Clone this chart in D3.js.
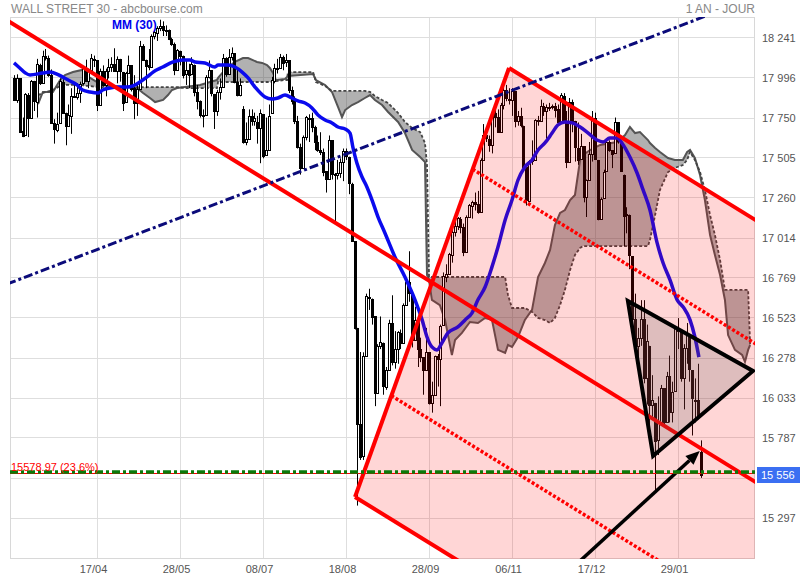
<!DOCTYPE html>
<html><head><meta charset="utf-8">
<script src="https://cdn.jsdelivr.net/npm/d3@7"></script>
<style>body{margin:0;background:#fff;} svg{display:block;font-family:Arial,"Liberation Sans",sans-serif;}</style>
</head><body><svg id="c" width="800" height="580"></svg>
<script>
// ---------- DATA ----------
const xLabels = ["17/04","28/05","08/07","18/08","28/09","06/11","17/12","29/01"];
const xLabelIdx = [29,58,87,116,145,174,203,232];
const yTicks = [15297,15542.3,15787.7,16033,16278.3,16523.7,16769,17014.3,17259.7,17505,17750.3,17995.7,18241];
const yTickLabels = ["15 297","15 542","15 787","16 033","16 278","16 523","16 769","17 014","17 260","17 505","17 750","17 996","18 241"];
const lastPrice = 15556, lastPriceLabel = "15 556";

const open = [
17990,17856,17990,17665,17640,17890,17750,17975,17845,18075,
17960,18130,18115,18010,17715,17675,17715,17970,17775,17700,
17760,17880,17875,17900,17960,18055,17975,18040,18110,18100,
17830,18035,17950,18035,18060,18080,18035,18110,18030,17845,
18025,18070,17930,17840,17925,18190,18105,18070,18060,18250,
18270,18300,18310,18285,18285,18232,18200,18040,18160,18125,
18015,18040,18015,18075,17905,17850,17765,17765,18000,18040,
17895,17790,17905,17935,18115,18020,18120,18145,17965,17890,
17800,17600,17620,17760,17730,17720,17685,17770,17520,17550,
17780,17975,18055,18055,18120,18090,18100,17920,17850,17730,
17570,17440,17630,17750,17745,17690,17600,17550,17540,17420,
17375,17610,17400,17400,17410,17480,17545,17510,17345,16990,
16460,15872,15676,16290,16650,16640,16530,16060,16350,16370,
16100,16200,16490,16250,16330,16430,16370,16600,16740,16670,
16385,16510,16330,16280,16200,16310,16000,16050,16285,16270,
16475,16775,16790,16910,17050,17085,17130,17080,16925,17140,
17210,17230,17220,17170,17490,17645,17620,17580,17780,17755,
17660,17830,17920,17865,17860,17910,17730,17760,17700,17445,
17240,17485,17490,17735,17730,17820,17790,17810,17813,17820,
17800,17720,17885,17730,17480,17845,17730,17565,17495,17575,
17265,17370,17525,17750,17490,17130,17255,17420,17600,17550,
17530,17720,17600,17400,17150,17155,16900,16515,16350,16400,
16515,16150,16350,15990,16000,15770,15880,16090,15885,16165,
15945,16070,16450,16440,16150,16335,16415,16200,16020,16015,
15700];
const high = [
18010,18015,17990,17750,17900,17900,17980,17975,18110,18080,
18160,18170,18130,18045,17740,17780,17990,17985,17780,17830,
17930,17960,17960,17970,18060,18105,18050,18140,18130,18100,
18050,18070,18050,18110,18120,18175,18125,18110,18030,18030,
18130,18070,18010,17960,18220,18200,18105,18170,18260,18280,
18310,18350,18340,18315,18290,18240,18210,18170,18160,18130,
18100,18080,18120,18075,17950,17855,17800,18010,18100,18040,
17895,17920,17990,18140,18120,18170,18180,18145,18050,17990,
17820,17720,17800,17800,17780,17760,17800,17770,17750,17830,
18000,18080,18110,18140,18130,18140,18100,17940,17880,17760,
17590,17640,17760,17770,17780,17700,17640,17660,17560,17420,
17640,17610,17410,17490,17500,17560,17560,17510,17350,16990,
16460,16312,16310,16670,16700,16640,16530,16360,16530,16370,
16220,16510,16660,16440,16440,16450,16610,16750,16930,16670,
16590,16510,16400,16280,16460,16310,16130,16290,16300,16480,
16800,16850,16920,17060,17110,17140,17140,17100,17150,17220,
17240,17290,17300,17500,17710,17680,17640,17780,17800,17800,
17840,17980,17950,17930,17930,17910,17790,17810,17700,17450,
17490,17610,17740,17760,17860,17840,17830,17840,17830,17840,
17830,17900,17900,17790,17870,17860,17730,17720,17650,17575,
17370,17600,17790,17780,17490,17260,17430,17610,17610,17550,
17750,17720,17600,17400,17200,17155,16900,16670,16460,16630,
16630,16480,16350,16170,16000,16040,16110,16090,16190,16290,
16130,16470,16520,16440,16360,16490,16420,16200,16150,16240,
15770];
const low = [
17853,17840,17660,17630,17640,17630,17750,17790,17750,17950,
17960,18100,18000,17715,17590,17660,17715,17775,17580,17700,
17650,17870,17860,17840,17950,17975,17930,18035,18060,17790,
17830,17940,17880,17990,18030,18030,17960,17970,17790,17845,
18025,17910,17740,17760,17925,18100,17930,18040,18060,18230,
18220,18280,18250,18250,18225,18190,18010,18040,18070,17990,
17950,17930,18010,17880,17800,17750,17690,17765,17990,17880,
17680,17760,17860,17935,18000,18020,18100,17960,17880,17880,
17590,17580,17620,17700,17700,17590,17470,17500,17520,17550,
17780,17960,18020,18055,18040,18060,17900,17830,17710,17560,
17400,17440,17610,17600,17660,17550,17540,17520,17390,17290,
17375,17370,17100,17370,17380,17360,17490,17280,16990,16450,
15370,15650,15650,16290,16570,16480,15980,16060,16330,16050,
16080,16200,16230,16210,16240,16330,16370,16600,16620,16340,
16380,16220,16250,16050,16200,15990,15940,16050,16100,15980,
16475,16740,16790,16860,17020,17060,17040,16900,16925,17140,
17130,17180,17160,17170,17490,17600,17540,17530,17690,17660,
17660,17800,17850,17830,17760,17690,17700,17690,17440,17210,
17240,17460,17490,17700,17730,17760,17620,17790,17800,17750,
17710,17720,17720,17440,17480,17660,17480,17460,17490,17230,
17140,17370,17480,17490,17120,17130,17255,17420,17540,17440,
17530,17590,17420,16960,17040,16820,16460,16320,16280,16350,
16120,15990,15840,15900,15450,15680,15880,15870,15885,15880,
15880,16070,16330,16130,15960,16240,16130,15800,15880,15900,
15540];
const close = [
17856,17995,17662,17635,17895,17749,17977,17849,18076,17959,
18127,18116,18011,17718,17678,17712,17976,17776,17698,17763,
17880,17875,17902,17958,18057,17977,18036,18113,18106,17826,
18034,17950,18038,18058,18080,18038,18110,18035,17841,18024,
18070,17928,17841,17924,18191,18105,18068,18060,18252,18272,
18299,18312,18285,18285,18232,18200,18042,18163,18126,18011,
18040,18011,18076,17906,17849,17766,17764,18000,18039,17899,
17791,17905,17935,18116,18016,18120,18144,17967,17891,17947,
17597,17620,17758,17731,17750,17684,17777,17516,17549,17761,
17978,18054,18051,18121,18086,18101,17920,17852,17731,17569,
17441,17631,17751,17746,17690,17599,17550,17541,17419,17373,
17615,17403,17402,17409,17477,17546,17512,17349,16990,16460,
15871,15666,16285,16655,16643,16528,16058,16351,16374,16102,
16200,16492,16253,16330,16433,16370,16599,16739,16674,16384,
16510,16330,16279,16201,16314,16001,16049,16285,16272,16472,
16776,16790,16912,17050,17084,17131,17081,16924,17141,17215,
17230,17217,17168,17489,17646,17623,17581,17779,17755,17663,
17828,17918,17867,17863,17910,17730,17758,17702,17448,17245,
17484,17489,17737,17732,17823,17792,17812,17813,17820,17798,
17720,17888,17730,17478,17848,17730,17568,17492,17575,17265,
17368,17524,17749,17495,17128,17252,17418,17603,17552,17528,
17721,17604,17425,17149,17158,16907,16514,16347,16399,16516,
16151,16379,15988,16016,15766,15882,16094,15885,16167,15944,
16069,16466,16449,16153,16337,16417,16205,16027,16014,15914,
15556];

// MM(30): [bar index, value]
const ma30 = [[0,18085],[2,18054],[4,18023],[5.6,18011],[10,18023],[12.6,18029],[15,18017],[17,17999],[19.6,17974],[22,17950],[24,17919],[26.6,17907],[29.4,17901],[31,17919],[33.5,17931],[36,17937],[39.5,17937],[41.6,17944],[44,17968],[46.5,17999],[48.6,18029],[52,18060],[55.6,18091],[59,18103],[61.5,18103],[63.2,18091],[66.7,18085],[70.2,18060],[71.3,18072],[74.8,18072],[77.2,18060],[79.7,18029],[81.8,17993],[84.2,17937],[87.7,17876],[90.1,17864],[92.2,17870],[94.7,17888],[97.1,17870],[99.2,17852],[101.7,17839],[104.1,17809],[106.2,17766],[108.7,17735],[111.1,17717],[113.2,17692],[115.7,17680],[117.4,17655],[118.4,17569],[119.8,17471],[121.6,17385],[123,17336],[125.1,17244],[127.2,17140],[129.6,17042],[133.1,16895],[136.6,16772],[140.1,16632],[142.6,16509],[144.3,16404],[146,16343],[147.8,16325],[149.5,16367],[151.6,16429],[155.1,16466],[157.6,16509],[160,16551],[162.1,16632],[164.6,16711],[167,16834],[169.1,16956],[171.6,17122],[174,17244],[176.1,17367],[178.5,17447],[181,17490],[183.1,17551],[185.5,17594],[188,17655],[190,17704],[192.5,17723],[195,17717],[197.8,17692],[200.2,17661],[203.7,17612],[205.8,17600],[208.2,17625],[210.7,17625],[212.4,17594],[215.2,17508],[217.7,17410],[219.8,17306],[222.2,17183],[224.7,16981],[226.8,16858],[229.2,16754],[231.7,16632],[233.8,16588],[236.2,16509],[237.9,16404],[239.3,16281]];

// Ichimoku cloud: bar index, span A (solid), span B (dashed)
const cloudIdx = [8.4,10.1,13.6,16.1,17.8,20.6,23.8,24.8,26.6,29,31.1,33.5,38.8,43,45.1,47.5,49.3,52.1,53.8,55.2,57,59.7,65,68.5,70.9,71.3,73.7,77.2,80,81.8,84.9,86.7,88.4,89.4,90.5,91.5,94.7,95.4,95.7,104.5,105.5,108.7,111.1,113.2,114.6,115.7,118.1,120.2,122.6,124.4,126.1,128.6,130.7,134.2,136.6,139.1,141.9,143.6,144.3,145,146,148.8,150.6,153,154.1,156.5,159.3,162.1,164.6,167,169.1,171.6,172.6,174,176.1,178.5,181,183.1,185.5,187.3,189,190.8,192.5,194.3,196,197.8,198.8,201.3,204.8,210.7,213.5,215.2,217,218.7,221.5,222.2,224,225.7,228.5,230.9,233.7,235.2,236.2,237.9,239.7,241.4,243.2,244.9,246.7,248.4,249.5,251.9,254.4,255.4,256.5,257.2];
const spanA = [17833,17907,17907,17980,18011,18029,18042,18023,17993,17968,17956,17944,17937,17931,17901,17870,17845,17858,17888,17919,17931,17937,17950,17968,17980,17993,18042,18091,18115,18115,18091,18085,18072,18054,18023,17980,17987,17999,18005,18017,17980,17950,17907,17815,17753,17796,17827,17845,17870,17888,17858,17827,17784,17723,17655,17551,17508,17477,16784,16754,16632,16600,16509,16294,16386,16429,16496,16490,16521,16509,16325,16306,16355,16343,16404,16509,16570,16772,16858,16938,17091,17165,17183,17244,17275,17490,17520,17551,17582,17600,17643,17692,17655,17661,17612,17594,17563,17539,17502,17490,17490,17539,17551,17502,17398,17244,17030,16907,16784,16631,16416,16325,16294,16251,16325,16355];
const spanB = [17888,17901,17919,17944,17950,17950,17950,17944,17944,17937,17937,17937,17937,17937,17937,17937,17937,17937,17937,17937,17937,17931,17931,17931,17931,17968,17968,17968,17968,17968,17968,17968,17968,17968,17968,17974,17980,17980,18029,18029,17968,17944,17913,17913,17913,17913,17913,17913,17913,17907,17882,17858,17839,17778,17723,17686,17661,17594,17459,16772,16772,16772,16772,16772,16772,16772,16772,16772,16772,16772,16772,16772,16662,16582,16582,16582,16558,16521,16508,16490,16521,16600,16693,16815,16907,16950,16962,16962,16962,16962,16962,16962,16962,16962,16962,16999,17152,17306,17416,17441,17459,17490,17539,17490,17416,17306,17152,17030,16876,16693,16693,16693,16693,16693,16693,16355];

// Fibonacci channel (bar index, price) and its levels
const fibP0 = [119.15, 15423], fibP1 = [172.96, 18054];
const fibSlope = -10.83;               // price change per bar
const fibEdges = [0, 1], fibDotted = [0.236, 0.764], fibMid = 0.5;
const fibRetrace = 15578.97, fibRetraceLabel = "15578.97 (23.6%)";

// Trend line (dash-dot navy) anchors
const trendLine = [[0,16745],[200,18092]];
// Triangle and arrow (bar index, price)
const triangle = [[214.5,16625],[258.2,16196],[223.3,15674]];
const arrow = [[196.5,15010],[239.6,15705]];

// ---------- DRAW ----------
const W=800,H=580,L=10,R=755,T=17,B=559;
const x = d3.scaleLinear().domain([0,240]).range([14,700.9]);
const y = d3.scaleLinear().domain([15042.5,18366.7]).range([B,T]);
const svg = d3.select('#c');
svg.append('defs').append('clipPath').attr('id','plot').append('rect')
  .attr('x',L).attr('y',T).attr('width',R-L).attr('height',B-T);

const grid = svg.append('g');
yTicks.forEach(v=>{const yy=Math.round(y(v))+0.5;
  grid.append('line').attr('x1',L).attr('x2',R).attr('y1',yy).attr('y2',yy).attr('stroke','#dedede');});
xLabelIdx.forEach(i=>{const xx=Math.round(x(i))+0.5;
  grid.append('line').attr('x1',xx).attr('x2',xx).attr('y1',T).attr('y2',B).attr('stroke','#dedede');});
grid.append('rect').attr('x',L+0.5).attr('y',T+0.5).attr('width',R-L-1).attr('height',B-T-1)
  .attr('fill','none').attr('stroke','#d8d8d8');

const g = svg.append('g').attr('clip-path','url(#plot)');

// cloud
const cloud = cloudIdx.map((d,i)=>({i:d,a:spanA[i],b:spanB[i]}));
g.append('path').datum(cloud).attr('d',d3.area().x(d=>x(d.i)).y0(d=>y(d.a)).y1(d=>y(d.b)))
  .attr('fill','rgba(60,60,60,0.4)');
g.append('path').datum(cloud).attr('d',d3.line().x(d=>x(d.i)).y(d=>y(d.a)))
  .attr('fill','none').attr('stroke','#555').attr('stroke-width',2);
g.append('path').datum(cloud).attr('d',d3.line().x(d=>x(d.i)).y(d=>y(d.b)))
  .attr('fill','none').attr('stroke','#444').attr('stroke-width',1.8).attr('stroke-dasharray','3,2');

// candles
const cg = g.append('g');
close.forEach((c,i)=>{
  const cx = Math.round(x(i));
  cg.append('line').attr('x1',cx+0.5).attr('x2',cx+0.5).attr('y1',y(high[i])).attr('y2',y(low[i]))
    .attr('stroke','#000').attr('stroke-width',1);
  const y1 = Math.round(y(Math.max(open[i],c))), y2 = Math.round(y(Math.min(open[i],c)));
  const up = c >= open[i];
  cg.append('rect').attr('x',cx-0.5).attr('y',y1+0.5).attr('width',2).attr('height',Math.max(1,y2-y1))
    .attr('fill',up?'#fff':'#000').attr('stroke','#000').attr('stroke-width',1);
});

// MA 30
g.append('path').datum(ma30).attr('d',d3.line().x(d=>x(d[0])).y(d=>y(d[1])).curve(d3.curveMonotoneX))
  .attr('fill','none').attr('stroke','#0a0aee').attr('stroke-width',3.5).attr('stroke-linejoin','round');

// Fibonacci channel
const lvl = f => [fibP0[0]+f*(fibP1[0]-fibP0[0]), fibP0[1]+f*(fibP1[1]-fibP0[1])];
const at = (f,idx) => { const s=lvl(f); return [idx, s[1]+fibSlope*(idx-s[0])]; };
const far = 320;
g.append('path').attr('d', d3.line().x(d=>x(d[0])).y(d=>y(d[1]))([lvl(0),lvl(1),at(1,far),at(0,far)])+'Z')
  .attr('fill','rgba(255,0,0,0.16)');
const ln = d3.line().x(d=>x(d[0])).y(d=>y(d[1]));
fibDotted.forEach(f=>g.append('path').attr('d',ln([lvl(f),at(f,far)])).attr('fill','none')
  .attr('stroke','#f00').attr('stroke-width',3.5).attr('stroke-dasharray','3,2'));
fibEdges.forEach(f=>g.append('path').attr('d',ln([lvl(f),at(f,far)])).attr('fill','none')
  .attr('stroke','#f00').attr('stroke-width',4));
g.append('path').attr('d',ln([lvl(0),lvl(1)])).attr('fill','none').attr('stroke','#f00').attr('stroke-width',4).attr('stroke-linejoin','miter');
g.append('path').attr('d',ln([at(fibMid,-20),at(fibMid,far)])).attr('fill','none').attr('stroke','#f00').attr('stroke-width',4);

// Trend line navy dash-dot
const ts = (trendLine[1][1]-trendLine[0][1])/(trendLine[1][0]-trendLine[0][0]);
g.append('path').attr('d',ln([[-20,trendLine[0][1]-20*ts],[300,trendLine[0][1]+300*ts]]))
  .attr('fill','none').attr('stroke','#0b0b7a').attr('stroke-width',3).attr('stroke-dasharray','9,3,3,3');

// triangle
g.append('path').attr('d',ln(triangle)+'Z').attr('fill','rgba(90,90,90,0.2)')
  .attr('stroke','#000').attr('stroke-width',4).attr('stroke-linejoin','miter');

// arrow
const a0=[x(arrow[0][0]),y(arrow[0][1])], a1=[x(arrow[1][0]),y(arrow[1][1])];
const ang=Math.atan2(a1[1]-a0[1],a1[0]-a0[0]);
const hl=14, hw=6;
const bx=a1[0]-hl*Math.cos(ang), by=a1[1]-hl*Math.sin(ang);
g.append('line').attr('x1',a0[0]).attr('y1',a0[1]).attr('x2',bx).attr('y2',by).attr('stroke','#000').attr('stroke-width',3.5);
g.append('path').attr('d',`M${a1[0]},${a1[1]}L${bx-hw*Math.sin(ang)},${by+hw*Math.cos(ang)}L${bx+hw*Math.sin(ang)},${by-hw*Math.cos(ang)}Z`).attr('fill','#000');

// Fibonacci retracement level
const fy = Math.round(y(fibRetrace));
g.append('line').attr('x1',L).attr('x2',R).attr('y1',fy+1.5).attr('y2',fy+1.5).attr('stroke','#f00').attr('stroke-width',1);
g.append('line').attr('x1',L).attr('x2',R).attr('y1',fy).attr('y2',fy).attr('stroke','#0a7a0a').attr('stroke-width',3.5).attr('stroke-dasharray','8,3,3,3');
svg.append('text').attr('x',11).attr('y',fy-1).attr('fill','#f00').attr('font-size','11px').text(fibRetraceLabel);

// axes (the tick hidden by the last-price tag gets no label, as in the reference)
const ly = y(lastPrice);
const shownTicks = yTicks.filter(v=>Math.abs(y(v)-ly)>12);
const ya = svg.append('g').attr('transform',`translate(${R},0)`)
  .call(d3.axisRight(y).tickValues(shownTicks).tickFormat(d=>yTickLabels[yTicks.indexOf(d)]).tickSize(0).tickPadding(7));
ya.select('.domain').remove();
ya.selectAll('text').attr('fill','#555').attr('font-size','11px').attr('font-family','Arial,"Liberation Sans",sans-serif');
const xa = svg.append('g').attr('transform',`translate(-4,${B})`)
  .call(d3.axisBottom(x).tickValues(xLabelIdx).tickFormat((d,i)=>xLabels[i]).tickSize(0).tickPadding(6));
xa.select('.domain').remove();
xa.selectAll('text').attr('fill','#555').attr('font-size','11px').attr('font-family','Arial,"Liberation Sans",sans-serif');

// last price tag
svg.append('rect').attr('x',757).attr('y',Math.round(ly)-8).attr('width',43).attr('height',16).attr('fill','#3b6ff2');
svg.append('text').attr('x',761).attr('y',Math.round(ly)+4).attr('fill','#fff').attr('font-size','11px').text(lastPriceLabel);

// titles
svg.append('text').attr('x',11).attr('y',13).attr('fill','#888').attr('font-size','12px').text('WALL STREET 30 - abcbourse.com');
svg.append('text').attr('x',755).attr('y',13).attr('text-anchor','end').attr('fill','#888').attr('font-size','12px').text('1 AN - JOUR');
svg.append('text').attr('x',112).attr('y',29).attr('fill','#0000ee').attr('font-size','12px').attr('font-weight','bold').text('MM (30)');
</script></body></html>
